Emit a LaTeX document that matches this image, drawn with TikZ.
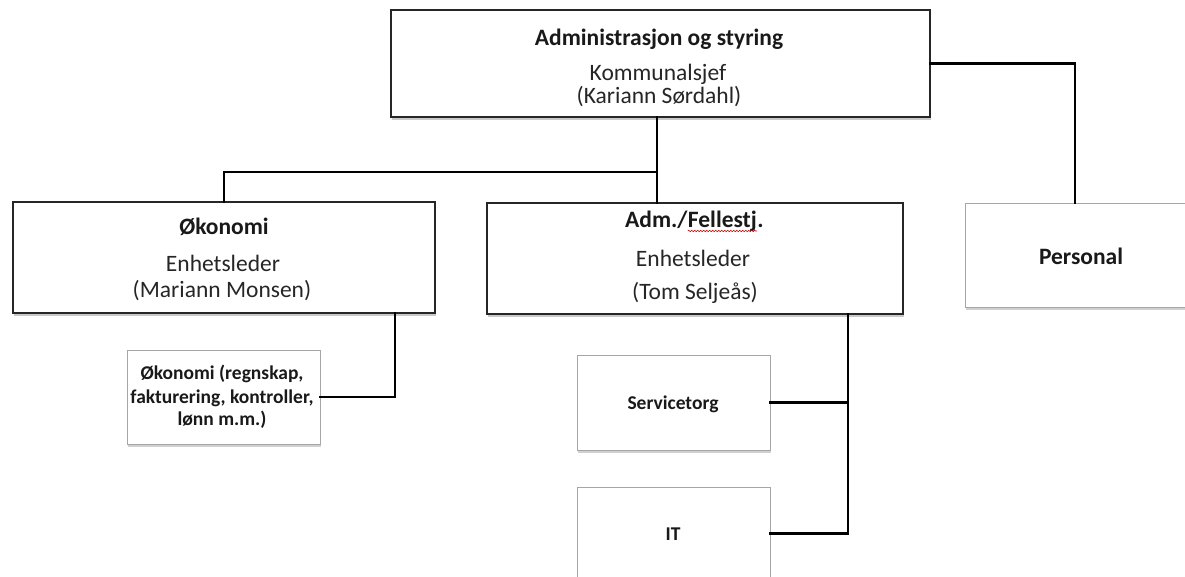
\documentclass[tikz,border=0pt]{standalone}
\usepackage{fontspec}
\setmainfont{Carlito}
\usetikzlibrary{shadows,decorations.pathmorphing}
\begin{document}
\begin{tikzpicture}[x=1pt,y=-1pt,
  unit/.style={draw=black!85, line width=1.1pt, fill=white, inner sep=0pt,
    drop shadow={shadow xshift=1pt, shadow yshift=-3pt, opacity=0.35, fill=black!60}},
  lightunit/.style={draw=black!35, line width=0.8pt, fill=white, inner sep=0pt,
    drop shadow={shadow xshift=1pt, shadow yshift=-3pt, opacity=0.3, fill=black!60}},
  conn/.style={draw=black, line width=2.8pt, line cap=rect},
  head/.style={inner sep=0pt, anchor=base, text=black!90,
    font=\bfseries\fontsize{23.5}{28}\selectfont},
  body/.style={inner sep=0pt, anchor=base, text=black!85,
    font=\fontsize{23.5}{28}\selectfont},
  small/.style={inner sep=0pt, anchor=base, text=black!90,
    font=\bfseries\fontsize{19.5}{23}\selectfont},
  squiggle/.style={red!75!black, line width=0.6pt, decorate,
    decoration={snake, amplitude=0.7pt, segment length=3pt}}]
\useasboundingbox (0,0) rectangle (1185,577);
\clip (0,0) rectangle (1185,577);
\fill[white] (0,0) rectangle (1185,577);

% junction where the line from the top box splits
\coordinate (j1) at (657,172);

% boxes
\node[unit, minimum width=539, minimum height=107] (top) at (660.5,63.5) {};
\node[unit, minimum width=422, minimum height=111] (okon) at (224,257.5) {};
\node[unit, minimum width=416, minimum height=111] (adm) at (695,258.5) {};
\node[lightunit, minimum width=235, minimum height=104] (pers) at (1082.5,255) {};
\node[lightunit, minimum width=193, minimum height=94] (okonsub) at (223.5,397) {};
\node[lightunit, minimum width=193, minimum height=95] (serv) at (673.5,402.5) {};
\node[lightunit, minimum width=193, minimum height=93] (it) at (673.5,533.5) {};

% texts of the top box
\node[head] (topA) at (659,46) {Administrasjon og styring};
\node[body] (topB) at (658,81) {Kommunalsjef};
\node[body] (topC) at (659,104) {(Kariann Sørdahl)};

% texts of the finance box
\node[head] (okA) at (224,235) {Økonomi};
\node[body] (okB) at (223,271) {Enhetsleder};
\node[body] (okC) at (222,297) {(Mariann Monsen)};

% texts of the administration box
\node[head, anchor=base west] (adA1) at (625,228) {Adm./};
\node[head, anchor=base west] (adA2) at (adA1.base east) {Fellestj};
\node[head, anchor=base west] (adA3) at (adA2.base east) {.};
\draw[squiggle] ([yshift=-3pt]adA2.base west) -- ([yshift=-3pt]adA2.base east);
\node[body] (adB) at (693,266) {Enhetsleder};
\node[body] (adC) at (695,299) {(Tom Seljeås)};

% texts of the remaining boxes
\node[head] (peA) at (1081,265) {Personal};
\node[small] (osA) at (222,379) {Økonomi (regnskap,};
\node[small] (osB) at (222,403) {fakturering, kontroller,};
\node[small] (osC) at (222,425) {lønn m.m.)};
\node[small] (svA) at (673,409) {Servicetorg};
\node[small] (itA) at (673,540) {IT};

% exit points of the lower reporting lines
\coordinate (okonout) at ([xshift=171]okon.south);
\coordinate (admout) at ([xshift=153]adm.south);

% reporting lines
\draw[conn] (top.south -| j1) -- (j1) -- (adm.north -| j1);
\draw[conn] (j1) -| (okon.north);
\draw[conn] (top.east) -| ([xshift=-7.5]pers.north);
\draw[conn] (okonout) |- (okonsub.east);
\draw[conn] (admout) |- (it.east);
\draw[conn] (serv.east) -- (serv.east -| admout);
\end{tikzpicture}
\end{document}
